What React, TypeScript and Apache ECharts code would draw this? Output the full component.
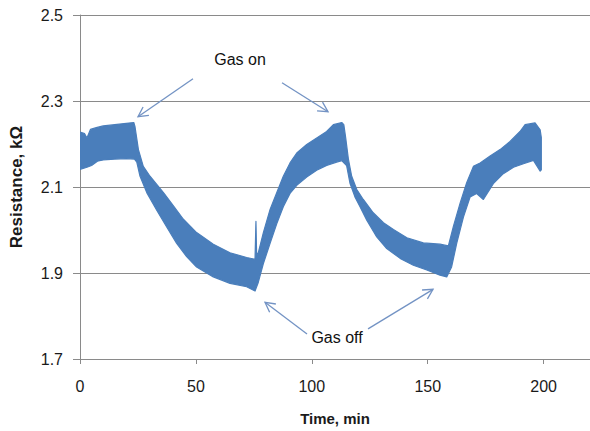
import React, { useEffect, useRef } from "react";
import * as echarts from "echarts";

// Sensor resistance response: the noisy trace is drawn as the band between its upper and lower edges
const upperTime = [
  0, 2.0, 3.0, 4.5, 7, 10, 15, 20, 23.2, 23.7, 25.2, 27.3, 30.2, 33.1, 36.0,
  40.3, 44.6, 50.3, 57.5, 64.7, 71.9, 75.5, 75.9, 76.2, 76.9, 79.1, 82.0, 84.9,
  87.7, 90.6, 93.5, 97.8, 102.1, 106.4, 109.3, 112.9, 113.8, 114.6, 115.8,
  117.2, 119.4, 122.2, 126.5, 130.9, 135.2, 141.0, 148.1, 155.3, 158.9, 161.1,
  164.0, 166.8, 169.7, 172.6, 176.9, 181.2, 185.5, 189.8, 192.0, 196.3, 198.5,
  199.0,
];
const upperKOhm = [
  2.228, 2.224, 2.214, 2.234, 2.238, 2.242, 2.245, 2.248, 2.25, 2.241, 2.187,
  2.148, 2.125, 2.106, 2.087, 2.056, 2.025, 1.994, 1.967, 1.947, 1.936, 1.932,
  2.02, 1.94, 1.947, 1.994, 2.048, 2.087, 2.125, 2.156, 2.179, 2.199, 2.214,
  2.229, 2.245, 2.25, 2.245, 2.215, 2.164, 2.125, 2.094, 2.071, 2.04, 2.017,
  2.001, 1.982, 1.97, 1.967, 1.963, 2.009, 2.063, 2.11, 2.148, 2.156, 2.172,
  2.187, 2.206, 2.229, 2.245, 2.249, 2.233, 2.215,
];
const lowerTime = [
  0, 3.0, 5.0, 7.5, 10, 15, 20, 23.5, 24.5, 25.9, 28.8, 33.1, 37.4, 41.7, 46.0,
  50.3, 57.5, 64.7, 71.9, 75.5, 76.9, 79.1, 82.0, 84.9, 87.7, 90.6, 93.5, 97.8,
  102.1, 106.4, 110.7, 113.0, 115.0, 116.5, 118.6, 120.8, 123.7, 128.0, 132.3,
  138.1, 143.8, 149.6, 155.3, 158.2, 160.3, 162.5, 165.4, 168.3, 171.1, 174.0,
  178.3, 182.6, 187.0, 191.3, 195.6, 198.5, 199.0,
];
const lowerKOhm = [
  2.141, 2.146, 2.15, 2.16, 2.163, 2.165, 2.166, 2.165, 2.158, 2.125, 2.087,
  2.046, 2.007, 1.969, 1.938, 1.914, 1.891, 1.876, 1.868, 1.858, 1.878, 1.922,
  1.969, 2.015, 2.054, 2.085, 2.104, 2.123, 2.139, 2.15, 2.158, 2.161, 2.15,
  2.108, 2.077, 2.054, 2.023, 1.984, 1.957, 1.934, 1.918, 1.907, 1.895, 1.891,
  1.914, 1.969, 2.03, 2.077, 2.085, 2.071, 2.108, 2.131, 2.146, 2.154, 2.162,
  2.137, 2.14,
];

const xTicks = [0, 50, 100, 150, 200];
const yTicks = [1.7, 1.9, 2.1, 2.3, 2.5];

// Annotation arrows (tail -> head) and their captions, in data units
const arrowTails = [
  [48.75, 2.3516],
  [87.14, 2.3423],
  [97.93, 1.758],
  [124.25, 1.77],
];
const arrowHeads = [
  [25.02, 2.2635],
  [106.99, 2.2751],
  [79.81, 1.832],
  [152.29, 1.862],
];
const noteTexts = ["Gas on", "Gas off"];
const notePositions = [
  [69.03, 2.397],
  [110.87, 1.751],
];

const GRID = "#8a8a8a";
const TRACE = "#4a7ebb";
const ARROW = "#7393c4";
const FONT = "Liberation Sans, Arial, sans-serif";

export default function App() {
  const ref = useRef<HTMLDivElement>(null);

  useEffect(() => {
    document.body.style.margin = "0";
    const chart = echarts.init(ref.current!, undefined, { renderer: "svg" });

    chart.setOption({
      animation: false,
      backgroundColor: "#ffffff",
      grid: { left: 80, right: 0, top: 15, bottom: 71, containLabel: false },
      xAxis: {
        type: "value",
        min: 0,
        max: 220,
        name: "Time, min",
        nameLocation: "middle",
        nameGap: 52,
        nameTextStyle: { fontFamily: FONT, fontSize: 15, fontWeight: "bold", color: "#1a1a1a" },
        axisLine: { show: true, lineStyle: { color: GRID, width: 1 } },
        axisTick: { show: true, length: 5, customValues: xTicks, lineStyle: { color: GRID } },
        axisLabel: {
          customValues: xTicks,
          margin: 19,
          fontFamily: FONT,
          fontSize: 16,
          color: "#1a1a1a",
        },
        splitLine: { show: false },
      },
      yAxis: {
        type: "value",
        min: 1.7,
        max: 2.5,
        name: "Resistance, kΩ",
        nameLocation: "middle",
        nameGap: 55,
        nameTextStyle: { fontFamily: FONT, fontSize: 17, fontWeight: "bold", color: "#1a1a1a" },
        axisLine: { show: true, lineStyle: { color: GRID, width: 1 } },
        axisTick: { show: true, length: 7, customValues: yTicks, lineStyle: { color: GRID } },
        axisLabel: {
          customValues: yTicks,
          margin: 17,
          fontFamily: FONT,
          fontSize: 16,
          color: "#1a1a1a",
          formatter: (v: number) => v.toFixed(1),
        },
        splitLine: { show: true, lineStyle: { color: GRID, width: 1 } },
      },
      series: [
        {
          type: "custom",
          name: "Resistance",
          data: [[upperTime[0], upperKOhm[0]]],
          clip: true,
          renderItem: (_params: any, api: any) => {
            const pts: number[][] = [];
            for (let i = 0; i < upperTime.length; i++) {
              pts.push(api.coord([upperTime[i], upperKOhm[i]]));
            }
            for (let i = lowerTime.length - 1; i >= 0; i--) {
              pts.push(api.coord([lowerTime[i], lowerKOhm[i]]));
            }
            return {
              type: "polygon",
              shape: { points: pts },
              style: { fill: TRACE, stroke: TRACE, lineWidth: 1.2, lineJoin: "round" },
            };
          },
        },
      ],
    });

    const toPx = (p: number[]) => chart.convertToPixel({ gridIndex: 0 }, p) as number[];
    const graphics: any[] = [];
    const armLen = 11;
    const spread = (28 * Math.PI) / 180;
    arrowTails.forEach((tail, i) => {
      const a = toPx(tail);
      const b = toPx(arrowHeads[i]);
      const ang = Math.atan2(a[1] - b[1], a[0] - b[0]);
      const arm1 = [b[0] + armLen * Math.cos(ang + spread), b[1] + armLen * Math.sin(ang + spread)];
      const arm2 = [b[0] + armLen * Math.cos(ang - spread), b[1] + armLen * Math.sin(ang - spread)];
      graphics.push({
        type: "line",
        silent: true,
        shape: { x1: a[0], y1: a[1], x2: b[0], y2: b[1] },
        style: { stroke: ARROW, lineWidth: 1.3 },
        z: 10,
      });
      graphics.push({
        type: "polyline",
        silent: true,
        shape: { points: [arm1, b, arm2] },
        style: { stroke: ARROW, lineWidth: 1.3, fill: "none" },
        z: 10,
      });
    });
    noteTexts.forEach((t, i) => {
      const p = toPx(notePositions[i]);
      graphics.push({
        type: "text",
        silent: true,
        x: p[0],
        y: p[1],
        style: {
          text: t,
          fontFamily: FONT,
          fontSize: 16,
          fill: "#111111",
          align: "center",
          verticalAlign: "middle",
        },
        z: 10,
      });
    });
    chart.setOption({ graphic: graphics });

    return () => chart.dispose();
  }, []);

  return <div ref={ref} style={{ width: 590, height: 431 }} />;
}
